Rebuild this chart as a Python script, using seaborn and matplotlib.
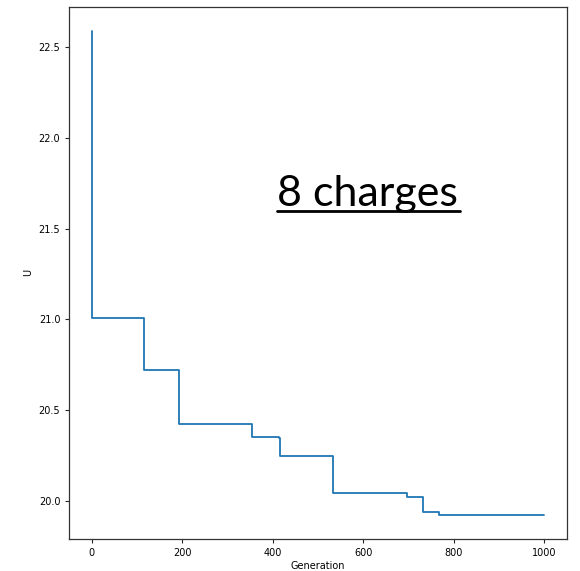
import matplotlib
matplotlib.use("Agg")
import matplotlib.pyplot as plt
import seaborn as sns
import pandas as pd
from matplotlib.lines import Line2D

generation = [0, 1, 43, 115, 193, 354, 413, 417, 534, 696, 733, 767, 1000]
energy_u = [22.592, 21.009, 21.005, 20.719, 20.424, 20.349, 20.343, 20.247,
            20.042, 20.020, 19.937, 19.922, 19.922]
annotation = "8 charges"

sns.set_style("ticks")
plt.rcParams["font.family"] = ["DejaVu Sans"]

df = pd.DataFrame({"Generation": generation, "U": energy_u})

fig = plt.figure(figsize=(5.8, 5.71), dpi=100)
ax = fig.add_axes([0.1195, 0.056, 0.977 - 0.1195, 0.9886 - 0.056])
sns.lineplot(data=df, x="Generation", y="U", ax=ax, drawstyle="steps-post",
             color="#1f77b4", linewidth=1.3)
ax.set_xticks([0, 200, 400, 600, 800, 1000])
ax.set_yticks([20.0, 20.5, 21.0, 21.5, 22.0, 22.5])
ax.tick_params(labelsize=7, length=3, width=0.8, labelcolor="black")
ax.set_xlabel("Generation", fontsize=7, labelpad=2, color="black")
ax.set_ylabel("U", fontsize=7, labelpad=4, color="black")
for s in ax.spines.values():
    s.set_visible(True)
    s.set_linewidth(0.9)
    s.set_color("#333333")

t = fig.text(277 / 580, 1 - 206 / 571, annotation, fontsize=31,
             family=["Lato", "DejaVu Sans"], ha="left", va="baseline", color="black")
fig.canvas.draw()
bb = t.get_window_extent(fig.canvas.get_renderer())
uy = (571 - 211) / 571
fig.add_artist(Line2D([bb.x0 / 580, 460 / 580], [uy, uy], transform=fig.transFigure,
                      color="black", linewidth=2))

fig.savefig("out.png", dpi=100)
